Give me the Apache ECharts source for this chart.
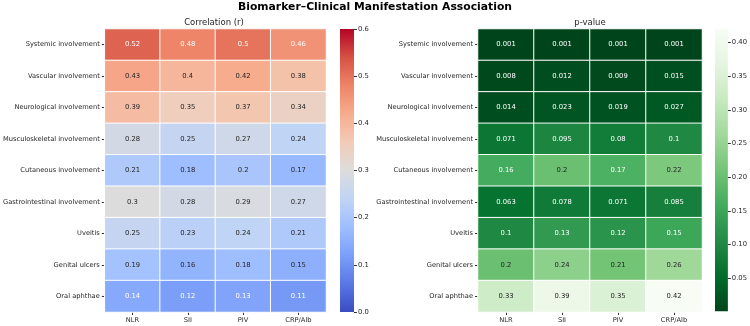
<!DOCTYPE html>
<html><head><meta charset="utf-8">
<script src="https://cdn.jsdelivr.net/npm/echarts@6/dist/echarts.min.js"></script>
<style>html,body{margin:0;padding:0;background:#fff}#c{width:750px;height:326px}</style>
</head><body><div id="c"></div>
<script>
const manifestations = ['Systemic involvement','Vascular involvement','Neurological involvement','Musculoskeletal involvement','Cutaneous involvement','Gastrointestinal involvement','Uveitis','Genital ulcers','Oral aphthae'];
const biomarkers = ['NLR','SII','PIV','CRP/Alb'];
// correlation (r), one array per biomarker, rows in manifestation order
const corrNLR    = [0.52,0.43,0.39,0.28,0.21,0.30,0.25,0.19,0.14];
const corrSII    = [0.48,0.40,0.35,0.25,0.18,0.28,0.23,0.16,0.12];
const corrPIV    = [0.50,0.42,0.37,0.27,0.20,0.29,0.24,0.18,0.13];
const corrCRPAlb = [0.46,0.38,0.34,0.24,0.17,0.27,0.21,0.15,0.11];
// p-values
const pNLR    = [0.001,0.008,0.014,0.071,0.16,0.063,0.10,0.20,0.33];
const pSII    = [0.001,0.012,0.023,0.095,0.20,0.078,0.13,0.24,0.39];
const pPIV    = [0.001,0.009,0.019,0.080,0.17,0.071,0.12,0.21,0.35];
const pCRPAlb = [0.001,0.015,0.027,0.100,0.22,0.085,0.15,0.26,0.42];
// colour-bar ranges and tick labels
const corrMin = 0, corrMax = 0.6;
const corrTicks = [0,0.1,0.2,0.3,0.4,0.5,0.6];
const pMin = 0.001, pMax = 0.42;
const pTicks = [0.05,0.10,0.15,0.20,0.25,0.30,0.35,0.40];

const coolwarm = ['#3b4cc0','#5a78e4','#7b9ff9','#9ebeff','#c0d4f5','#dddcdc','#f2cbb7','#f7ac8e','#ee8468','#d65244','#b40426'];
const greensR = ['#00441b','#006d2c','#238b45','#41ab5d','#74c476','#a1d99b','#c7e9c0','#e5f5e0','#f7fcf5'];

function hex2rgb(h){return [parseInt(h.slice(1,3),16),parseInt(h.slice(3,5),16),parseInt(h.slice(5,7),16)];}
function cmap(stops,t){
  t=Math.max(0,Math.min(1,t));
  const n=stops.length-1, f=t*n, i=Math.min(n-1,Math.floor(f)), u=f-i;
  const a=hex2rgb(stops[i]), b=hex2rgb(stops[i+1]);
  return a.map((v,k)=>v+(b[k]-v)*u);
}
function lum(rgb){
  const c=rgb.map(v=>{v/=255;return v<=0.03928?v/12.92:Math.pow((v+0.055)/1.055,2.4);});
  return 0.2126*c[0]+0.7152*c[1]+0.0722*c[2];
}
function buildData(cols,stops,vmin,vmax){
  const out=[];
  cols.forEach((col,x)=>col.forEach((v,y)=>{
    const l=lum(cmap(stops,(v-vmin)/(vmax-vmin)));
    out.push({value:[x,y,v],label:{color:l>0.408?'#262626':'#ffffff'}});
  }));
  return out;
}
const corrData = buildData([corrNLR,corrSII,corrPIV,corrCRPAlb],coolwarm,corrMin,corrMax);
const pData = buildData([pNLR,pSII,pPIV,pCRPAlb],greensR,pMin,pMax);

function gradient(stops){
  return new echarts.graphic.LinearGradient(0,1,0,0,stops.map((c,i)=>({offset:i/(stops.length-1),color:c})));
}
const FONT='DejaVu Sans';
const catX = (gi)=>({type:'category',gridIndex:gi,data:biomarkers,position:'bottom',
  axisLine:{show:false},axisTick:{show:true,length:3,lineStyle:{color:'#333'},alignWithLabel:true},
  axisLabel:{fontFamily:FONT,fontSize:6.7,color:'#262626',margin:5},splitLine:{show:false}});
const catY = (gi)=>({type:'category',gridIndex:gi,data:manifestations,inverse:true,
  axisLine:{show:false},axisTick:{show:true,length:3,lineStyle:{color:'#333'},alignWithLabel:true},
  axisLabel:{fontFamily:FONT,fontSize:6.7,color:'#262626',margin:5},splitLine:{show:false}});
const cbX = (gi)=>({type:'category',gridIndex:gi,data:[''],show:false});
const cbY = (gi,min,max,ticks,dec)=>({type:'value',gridIndex:gi,min:min,max:max,position:'right',
  axisLine:{show:false},splitLine:{show:false},
  axisTick:{show:true,length:3,lineStyle:{color:'#333'},customValues:ticks},
  axisLabel:{fontFamily:FONT,fontSize:6.8,color:'#262626',margin:4,customValues:ticks,formatter:v=>v.toFixed(dec)}});

const chart = echarts.init(document.getElementById('c'),null,{renderer:'canvas'});
chart.setOption({
  animation:false,
  backgroundColor:'#fff',
  title:[
    {text:'Biomarker\u2013Clinical Manifestation Association',left:'center',top:2,padding:0,
     textStyle:{fontFamily:FONT,fontWeight:'bold',fontSize:10.8,color:'#000'}},
    {text:'Correlation (r)',left:214,top:18,padding:0,textAlign:'center',textStyle:{fontFamily:FONT,fontWeight:'normal',fontSize:8.5,color:'#262626'}},
    {text:'p-value',left:590,top:18,padding:0,textAlign:'center',textStyle:{fontFamily:FONT,fontWeight:'normal',fontSize:8.5,color:'#262626'}}
  ],
  grid:[
    {left:103,right:424,top:29,bottom:14},
    {left:340,width:14,top:29,bottom:14},
    {left:478,right:48,top:29,bottom:14},
    {left:715,width:14,top:29,bottom:14}
  ],
  xAxis:[catX(0),cbX(1),catX(2),cbX(3)],
  yAxis:[catY(0),cbY(1,corrMin,corrMax,corrTicks,1),catY(2),cbY(3,0,pMax,pTicks,2)],
  visualMap:[
    {type:'continuous',show:false,seriesIndex:0,dimension:2,min:corrMin,max:corrMax,inRange:{color:coolwarm}},
    {type:'continuous',show:false,seriesIndex:2,dimension:2,min:pMin,max:pMax,inRange:{color:greensR}}
  ],
  series:[
    {type:'heatmap',xAxisIndex:0,yAxisIndex:0,data:corrData,
     itemStyle:{borderColor:'#fff',borderWidth:1},
     label:{show:true,fontFamily:FONT,fontSize:6.8,formatter:p=>String(p.value[2])}},
    {type:'bar',xAxisIndex:1,yAxisIndex:1,data:[corrMax],barWidth:'100%',
     itemStyle:{color:gradient(coolwarm)},silent:true},
    {type:'heatmap',xAxisIndex:2,yAxisIndex:2,data:pData,
     itemStyle:{borderColor:'#fff',borderWidth:1},
     label:{show:true,fontFamily:FONT,fontSize:6.8,formatter:p=>String(p.value[2])}},
    {type:'bar',xAxisIndex:3,yAxisIndex:3,stack:'pcb',data:[pMin],barWidth:'100%',
     itemStyle:{color:'rgba(0,0,0,0)'},silent:true},
    {type:'bar',xAxisIndex:3,yAxisIndex:3,stack:'pcb',data:[pMax-pMin],barWidth:'100%',
     itemStyle:{color:gradient(greensR)},silent:true}
  ]
});
</script></body></html>
